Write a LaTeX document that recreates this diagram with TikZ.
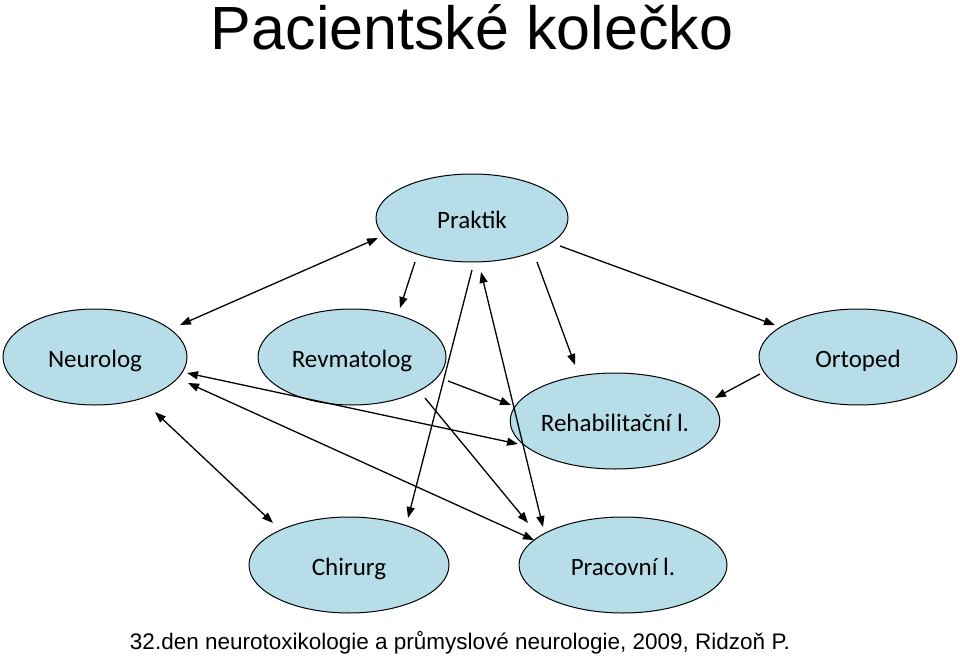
\documentclass[tikz,border=0pt]{standalone}
\usepackage{fontspec}
\setmainfont{Liberation Sans}
\newfontfamily\calib{Carlito}
\usetikzlibrary{shapes.geometric,arrows.meta}
\definecolor{ellfill}{RGB}{183,222,232}
\tikzset{
  ell/.style={ellipse,draw=black,line width=1pt,fill=ellfill,inner sep=0pt,
    text height=20pt,text depth=0pt,
    minimum height=96pt,font=\calib\fontsize{25}{28}\selectfont},
  con/.style={line width=1.3pt,-{Triangle[length=11pt,width=8pt]}},
  bicon/.style={line width=1.3pt,{Triangle[length=11pt,width=8pt]}-{Triangle[length=11pt,width=8pt]}}
}
\begin{document}
\begin{tikzpicture}[x=1pt,y=-1pt]
\useasboundingbox (0,0) rectangle (960,658);
\node (title) at (472,27) {\fontsize{61}{64}\selectfont Pacientské kolečko};
\node[ell,minimum width=192pt,minimum height=88pt] (prak) at (472,218) {Praktik};
\node[ell,minimum width=184pt] (neuro) at (95,357) {Neurolog};
\node[ell,minimum width=188pt] (revma) at (352,357) {Revmatolog};
\node[ell,minimum width=198pt] (orto) at (858,357) {Ortoped};
\node[ell,minimum width=206pt] (rehab) at (615,421) {Rehabilitační l.};
\node[ell,minimum width=200pt] (chir) at (349,565) {Chirurg};
\node[ell,minimum width=208pt] (prac) at (623,565) {Pracovní l.};
\node (foot) at (460,643) {\fontsize{22.5}{24}\selectfont 32.den neurotoxikologie a průmyslové neurologie, 2009, Ridzoň P.};
% endpoints
\coordinate (p1) at (378,238); \coordinate (n1) at (180,325);
\coordinate (p2) at (415,262); \coordinate (r2) at (400,308);
\coordinate (p3) at (472,270); \coordinate (c3) at (408,518);
\coordinate (p4) at (481,272); \coordinate (w4) at (543,527);
\coordinate (p5) at (537,262); \coordinate (h5) at (575,365);
\coordinate (p6) at (560,246); \coordinate (o6) at (775,325);
\coordinate (o7) at (760,374); \coordinate (h7) at (715,398);
\coordinate (r8) at (448,381); \coordinate (h8) at (511,405);
\coordinate (n9) at (187,373); \coordinate (h9) at (518,444);
\coordinate (n10) at (188,383); \coordinate (w10) at (534,540);
\coordinate (n11) at (155,412); \coordinate (c11) at (273,523);
\coordinate (r12) at (425,398); \coordinate (w12) at (528,523);
\draw[bicon] (p1) -- (n1);
\draw[con] (p2) -- (r2);
\draw[con] (p3) -- (c3);
\draw[bicon] (p4) -- (w4);
\draw[con] (p5) -- (h5);
\draw[con] (p6) -- (o6);
\draw[con] (o7) -- (h7);
\draw[con] (r8) -- (h8);
\draw[bicon] (n9) -- (h9);
\draw[bicon] (n10) -- (w10);
\draw[bicon] (n11) -- (c11);
\draw[con] (r12) -- (w12);
\end{tikzpicture}
\end{document}
